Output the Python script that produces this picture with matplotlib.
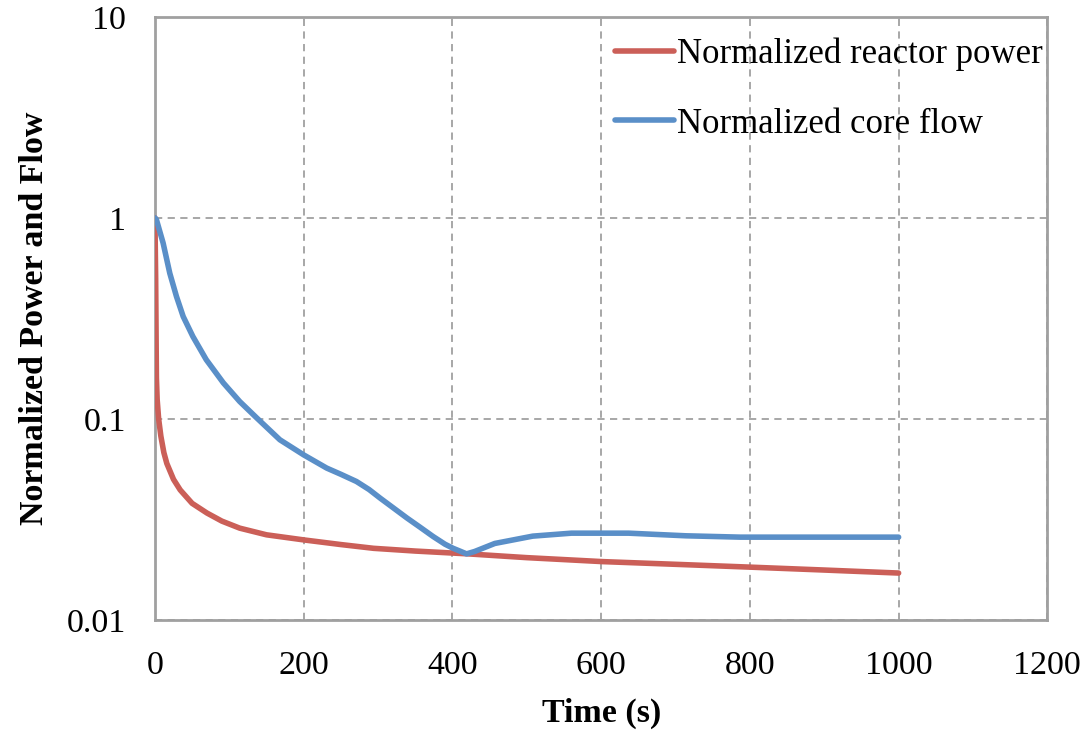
import matplotlib
matplotlib.use("Agg")
import matplotlib.pyplot as plt
from matplotlib.ticker import FixedLocator, FuncFormatter

# values
power_t = [0, 1, 2, 3, 5, 8, 12, 16, 25, 34, 50, 70, 90, 114, 150, 200,
           250, 294, 350, 421, 500, 601, 700, 800, 900, 1000]
power_v = [1.0, 0.5, 0.16, 0.125, 0.1, 0.082, 0.068, 0.06, 0.05, 0.0443,
           0.038, 0.034, 0.031, 0.0286, 0.0265, 0.025, 0.0237, 0.0227, 0.022,
           0.0213, 0.0204, 0.0195, 0.0189, 0.0183, 0.0177, 0.0171]

flow_t = [0, 2, 11, 20, 29, 38, 51, 69, 92, 114, 137, 168, 200, 231, 250,
          271, 288, 303, 320, 339, 356, 374, 390, 401, 410, 419, 430, 457,
          508, 560, 637, 714, 787, 850, 1000]
flow_v = [1.0, 0.98, 0.75, 0.53, 0.406, 0.323, 0.257, 0.197, 0.151, 0.122,
          0.101, 0.0787, 0.0662, 0.0569, 0.053, 0.0488, 0.0445, 0.0403,
          0.0362, 0.0321, 0.029, 0.026, 0.0238, 0.0227, 0.022, 0.0213,
          0.0219, 0.024, 0.0261, 0.027, 0.027, 0.0262, 0.0258, 0.0258, 0.0258]

x_ticks = [0, 200, 400, 600, 800, 1000, 1200]
y_ticks = [0.01, 0.1, 1, 10]

plt.rcParams['font.family'] = ['Liberation Serif', 'DejaVu Serif']

fig = plt.figure(figsize=(10.91, 7.31), dpi=100)
fig.subplots_adjust(left=0.142, right=0.96, top=0.977, bottom=0.152)
ax = fig.add_subplot(1, 1, 1)

ax.plot(power_t, power_v, color='#CB5F58', lw=4, solid_capstyle='round',
        solid_joinstyle='round', label='Normalized reactor power', zorder=3)
ax.plot(flow_t, flow_v, color='#5A8FC8', lw=4, solid_capstyle='round',
        solid_joinstyle='round', label='Normalized core flow', zorder=3)

ax.set_yscale('log')
ax.set_xlim(0, 1200)
ax.set_ylim(0.01, 10)
ax.xaxis.set_major_locator(FixedLocator(x_ticks))
ax.yaxis.set_major_locator(FixedLocator(y_ticks))
ax.yaxis.set_minor_locator(FixedLocator([]))
ax.yaxis.set_major_formatter(FuncFormatter(lambda v, p: '%g' % v))
ax.tick_params(length=0, labelsize=24.5)
ax.tick_params(axis='x', pad=22)
ax.tick_params(axis='y', pad=21)

ax.grid(True, color='#A0A0A0', linestyle=(0, (4, 3)), linewidth=1.3)
for s in ax.spines.values():
    s.set_color('#A0A0A0')
    s.set_linewidth(2)

ax.set_xlabel('Time (s)', fontsize=24.5, fontweight='bold', labelpad=12)
ax.set_ylabel('Normalized Power and Flow', fontsize=24.5, fontweight='bold',
              labelpad=12)

ax.legend(loc='upper right', bbox_to_anchor=(1.005, 0.98), frameon=False,
          fontsize=25, handlelength=1.7, handletextpad=0.1,
          labelspacing=1.05, borderaxespad=0.0, borderpad=0.25)

fig.savefig('out.png', dpi=100)
